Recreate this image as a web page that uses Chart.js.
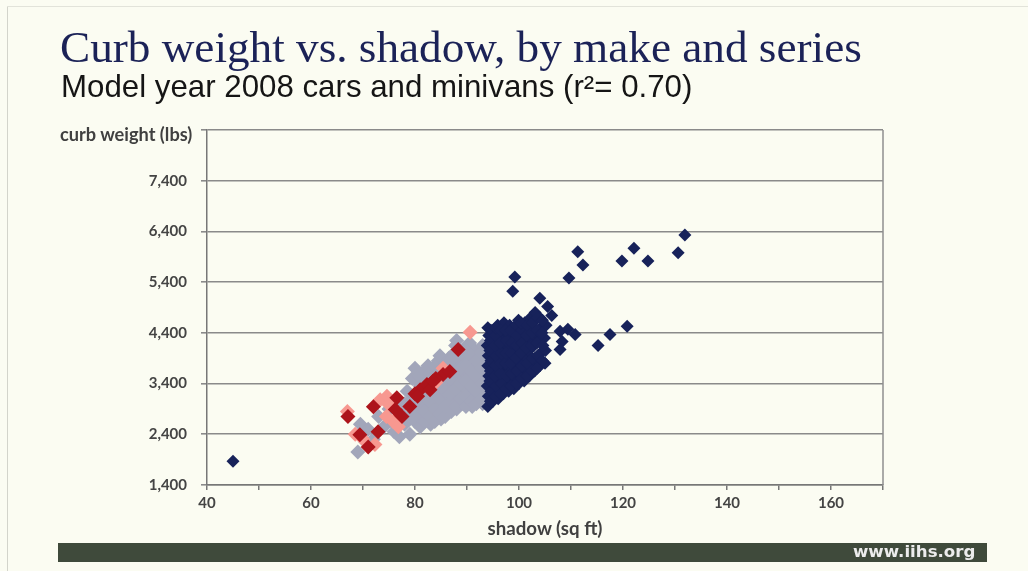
<!DOCTYPE html>
<html><head><meta charset="utf-8">
<script src="https://cdn.jsdelivr.net/npm/chart.js@4"></script>
<style>
html,body{margin:0;padding:0;background:#fbfcf2;}
#wrap{position:relative;width:1028px;height:571px;overflow:hidden;background:#fbfcf2;}
canvas{position:absolute;left:0;top:0;}
.t{position:absolute;white-space:nowrap;line-height:1;}
#title{font-family:"Liberation Serif",serif;color:#1b2257;font-size:38px;}
#sub{font-family:"Liberation Sans",Arial,sans-serif;color:#151515;font-size:23px;}
#ytitle,#xtitle{font-family:Lato,sans-serif;font-weight:bold;color:#404040;font-size:13px;}
#footer{position:absolute;left:58px;top:543px;width:929px;height:19px;background:#3f4a3b;}
#url{font-family:"DejaVu Sans",sans-serif;font-weight:bold;color:#ececec;font-size:13px;}
#frameL{position:absolute;left:7px;top:6px;width:1px;height:565px;background:#d3d4cb;}
#frameT{position:absolute;left:7px;top:6px;width:1021px;height:1px;background:#e2e3da;}
</style></head>
<body><div id="wrap">
<div id="frameL"></div><div id="frameT"></div>
<canvas id="c" width="1028" height="571"></canvas>
<div id="title" class="t">Curb weight vs. shadow, by make and series</div>
<div id="sub" class="t">Model year 2008 cars and minivans (r²= 0.70)</div>
<div id="ytitle" class="t">curb weight (lbs)</div>
<div id="xtitle" class="t">shadow (sq ft)</div>
<div id="footer"></div>
<div id="url" class="t">www.iihs.org</div>
</div>
<script>
// ---- data (shadow sq ft, curb weight lbs) ----
const navyX = [45,131.9,130.6,122.1,119.8,124.8,111.3,112.3,109.6,99.2,98.8,104,105.5,120.8,117.5,115.2,107.9,109.4,110.8,108.3,107.9,
  94,94.1,93.9,94.2,94,94.1,93.9,94.2,94,
  95,95.2,94.9,95.1,95,95.2,94.9,95.1,
  96,96.1,96.2,95.9,96,96.1,96.2,95.9,
  97,97.2,96.9,97.1,97,97.2,96.9,97.1,
  98,98.1,98.2,97.9,98,98.1,98.2,
  99,99.1,98.9,99.2,99,99.1,
  100,100.2,99.9,100.1,100,100.2,99.9,
  101,101.1,100.9,101.2,101,101.1,
  102,102.2,101.9,102.1,102,102.2,
  103,103.1,102.9,103.2,103,103.1,
  104,104.1,103.9,104.2,104,
  105,105.1,104.9,105.2,
  106.3,
  94.5,94.6,94.4,94.5,94.6,94.4,94.5,94.6,
  95.5,95.6,95.4,95.5,95.6,95.4,95.5,95.6,
  96.5,96.6,96.4,96.5,96.6,96.4,96.5,
  97.5,97.6,97.4,97.5,97.6,97.4,
  98.5,98.6,98.4,98.5,98.6,98.4,
  99.5,99.6,99.4,99.5,99.6,99.4,
  100.5,100.6,100.4,100.5,100.6,100.4,
  101.5,101.6,101.4,101.5,101.6,
  102.5,102.6,102.4,102.5,102.6,
  103.5,103.6,103.4,103.5,103.6,
  104.5,104.6,104.4,104.5];
const navyY = [1870,6330,5980,6070,5815,5815,6000,5740,5480,5500,5220,5080,4920,4530,4370,4150,4430,4470,4370,4230,4070,
  2950,3150,3350,3550,3750,3950,4150,4350,4500,
  3050,3250,3450,3650,3850,4050,4250,4450,
  3100,3300,3500,3700,3900,4100,4300,4550,
  3200,3400,3600,3800,4000,4200,4400,4600,
  3250,3450,3700,3900,4100,4350,4550,
  3300,3500,3750,4000,4250,4450,
  3400,3600,3850,4100,4300,4500,4650,
  3450,3700,3950,4200,4400,4600,
  3550,3800,4050,4300,4500,4700,
  3650,3900,4150,4400,4650,4800,
  3750,4000,4250,4500,4700,
  3800,4050,4300,4550,
  4740,
  3050,3250,3450,3650,3850,4050,4250,4450,
  3150,3350,3550,3750,3950,4150,4350,4500,
  3200,3400,3600,3800,4000,4200,4450,
  3300,3550,3800,4000,4250,4450,
  3350,3600,3800,4000,4200,4450,
  3400,3650,3900,4150,4350,4550,
  3500,3750,4000,4200,4450,4600,
  3550,3800,4100,4350,4550,
  3650,3900,4150,4400,4600,
  3700,3950,4200,4450,4700,
  3850,4150,4400,4650];
const grayX = [69,69.5,70.5,71,72,73,74,75,75.5,76,76.5,77,77.5,78,78,78.5,79,79,79.5,79.5,
  80,80,80.5,80,80.5,81,81,81.5,81,81.5,82,82,82.5,82,82.5,83,83,83.5,83,83.5,
  84,84,84.5,84,84.5,85,85,85.5,85,85.5,86,86,86.5,86,86.5,87,87,87.5,87,87.5,
  88,88,88.5,88,88,89,89,89.5,89,89.5,90,90,90.5,90,90.5,91,91,91.5,91,91.5,
  92,92,92.5,92,93,93,93,93,93,
  80.8,80.8,80.8,81.8,81.8,81.8,81.8,82.8,82.8,82.8,82.8,
  83.8,83.8,83.8,83.8,83.8,84.8,84.8,84.8,84.8,84.8,
  85.8,85.8,85.8,85.8,85.8,86.8,86.8,86.8,86.8,
  87.8,87.8,87.8,87.8,87.8,88.8,88.8,88.8,88.8,
  89.8,89.8,89.8,89.8,89.8,90.8,90.8,90.8,90.8,
  91.8,91.8,91.8,91.8,92.8,92.8,92.8,92.8];
const grayY = [2050,2600,2250,2500,2300,2750,2550,2900,2650,2450,3050,2350,2800,2600,3000,3250,2400,2750,3100,3500,
  2650,2900,3250,3700,3450,2550,2800,3050,3350,3600,2700,2950,3200,3500,3750,2600,2850,3100,3400,3650,
  2750,3000,3250,3550,3850,2700,2900,3150,3400,3700,2800,3050,3300,3600,3900,2850,3100,3400,3750,4000,
  2900,3200,3500,3800,4250,3000,3250,3550,3850,4100,3050,3300,3600,3900,4200,2950,3150,3450,3750,4050,
  3100,3350,3650,3950,3000,3250,3550,3850,4150,
  2750,3100,3550,2650,2850,3350,3650,2750,3050,3300,3600,
  2650,2900,3150,3450,3750,2800,3100,3350,3650,3950,
  2750,2950,3250,3500,3800,2900,3200,3500,3850,
  2950,3300,3650,3950,4150,3100,3400,3700,4000,
  2950,3150,3450,3750,4050,3050,3350,3650,3950,
  3000,3250,3550,3850,3100,3400,3700,4000];
const redX = [67.1,69.4,71,72.9,72,76.5,76.2,77.5,81,82.3,82.9,85.4,86.7,88.3,79,84,80,83.5,80.5];
const redY = [2750,2390,2150,2450,2945,3120,2890,2750,3280,3380,3280,3580,3640,4070,2950,3500,3200,3450,3150];
const salmonX = [90.6,67,68.5,70,72.3,73.3,74.6,75,75.8,76.8,74.5,84,85.4];
const salmonY = [4410,2850,2400,2300,2200,3080,3150,2980,2650,2550,2750,3420,3700];
const xTicks = [40,60,80,100,120,140,160];
const yTicks = [1400,2400,3400,4400,5400,6400,7400];

function pts(xs, ys){ return xs.map((x,i)=>({x:x, y:ys[i]})); }

const frame = {
  id:'frame',
  afterDatasetsDraw(c){
    const a=c.chartArea, g=c.ctx;
    g.save(); g.strokeStyle='#8f8f8f'; g.lineWidth=1.5;
    g.beginPath(); g.moveTo(a.right, a.top); g.lineTo(a.right, a.bottom); g.stroke();
    g.restore();
  }
};

const tickFont = {family:'Lato', weight:'bold', size:15};
new Chart(document.getElementById('c'), {
  type:'scatter',
  data:{datasets:[
    {label:'navy', data:pts(navyX,navyY), backgroundColor:'#17225a', borderWidth:0, pointStyle:'rectRot', pointRadius:6.5},
    {label:'red', data:pts(redX,redY), backgroundColor:'#ad141b', borderWidth:0, pointStyle:'rectRot', pointRadius:7.5},
    {label:'salmon', data:pts(salmonX,salmonY), backgroundColor:'#f79890', borderWidth:0, pointStyle:'rectRot', pointRadius:7.5},
    {label:'gray', data:pts(grayX,grayY), backgroundColor:'#a2a6ba', borderWidth:0, pointStyle:'rectRot', pointRadius:7.5}
  ]},
  options:{
    responsive:false, animation:false, events:[],
    layout:{padding:{left:0, top:130, right:145, bottom:0}},
    plugins:{legend:{display:false}, tooltip:{enabled:false}},
    scales:{
      x:{type:'linear', min:40, max:170,
        afterFit(s){ s.height = 86; },
        ticks:{stepSize:10, autoSkip:false, maxRotation:0, padding:4, color:'#444', font:tickFont,
          callback:v => xTicks.includes(v) ? String(v) : ''},
        grid:{drawOnChartArea:false, drawTicks:true, tickLength:5, color:'#777', lineWidth:1.5},
        border:{color:'#777', width:1.5}},
      y:{type:'linear', min:1400, max:8400,
        afterFit(s){ s.width = 207; },
        ticks:{stepSize:1000, padding:14, color:'#444', font:tickFont,
          callback:v => yTicks.includes(v) ? v.toLocaleString('en-US') : ''},
        grid:{color:'#8a8a8a', lineWidth:1.6, tickLength:6},
        border:{color:'#777', width:1.5}}
    }
  },
  plugins:[frame]
});

// place HTML texts: fit to width, put on baseline
function place(id, left, width, baseline, ratio, center){
  const el=document.getElementById(id);
  let fs=parseFloat(getComputedStyle(el).fontSize);
  fs = fs*width/el.offsetWidth;
  el.style.fontSize = fs+'px';
  el.style.top = (baseline - ratio*fs)+'px';
  el.style.left = (center ? left - el.offsetWidth/2 : left)+'px';
}
place('title', 60, 802, 63, 0.8375, false);
place('sub', 61, 632, 97, 0.8465, false);
place('ytitle', 60, 133, 141, 0.887, false);
place('xtitle', 545, 115, 536, 0.887, true);
place('url', 853, 123, 558, 0.846, false);
</script>
</body></html>
